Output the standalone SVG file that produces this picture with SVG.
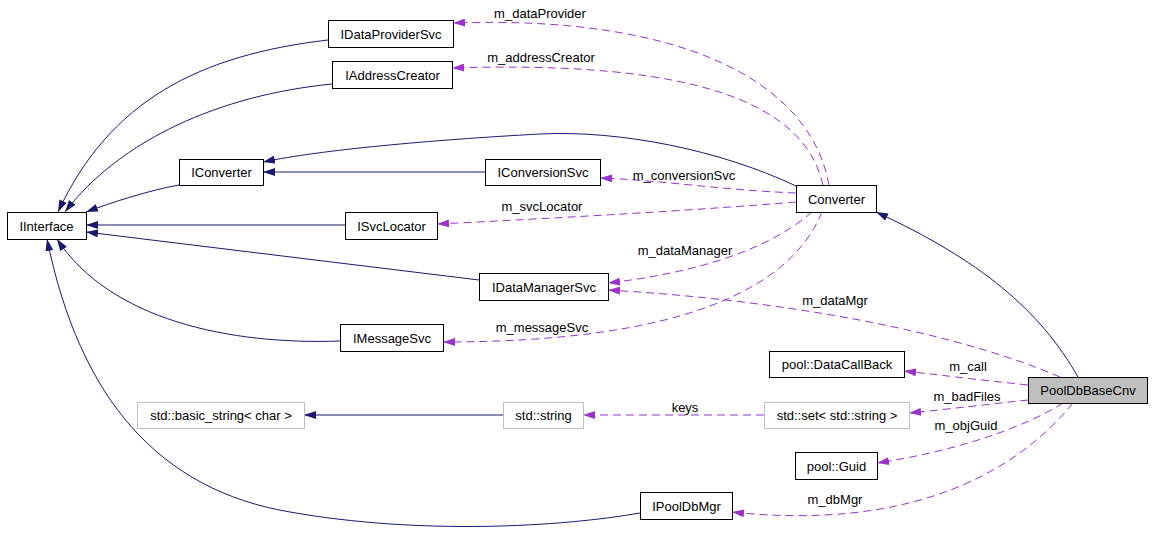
<svg xmlns="http://www.w3.org/2000/svg" width="1152" height="560" viewBox="0 0 1152 560">
<style>
.n rect{fill:#fff;stroke:#000;stroke-width:1}
.n.g rect{stroke:#bfbfbf}
.n.sel rect{fill:#bfbfbf}
text{font-family:"Liberation Sans",Arial,sans-serif;font-size:13px;fill:#000;text-anchor:middle}
.inh{fill:none;stroke:#191970;stroke-width:1;marker-end:url(#ab)}
.use{fill:none;stroke:#9a32cd;stroke-width:1;stroke-dasharray:8,5;marker-end:url(#ap)}
</style>
<defs>
<marker id="ab" viewBox="0 0 12 8" refX="12" refY="4" markerWidth="12" markerHeight="8" markerUnits="userSpaceOnUse" orient="auto"><path d="M0,0 L12,4 L0,8 z" fill="#191970"/></marker>
<marker id="ap" viewBox="0 0 12 8" refX="12" refY="4" markerWidth="12" markerHeight="8" markerUnits="userSpaceOnUse" orient="auto"><path d="M0,0 L12,4 L0,8 z" fill="#9a32cd"/></marker>
</defs>
<rect width="1152" height="560" fill="#fff"/>
<g id="connectors">
<path class="inh" d="M328,40 C200,55 110,100 58,212"/>
<path class="inh" d="M332,84 C220,95 120,140 65,212"/>
<path class="inh" d="M179,185 C150,190 110,203 86,212"/>
<path class="inh" d="M345,225 L86,225"/>
<path class="inh" d="M479,280 L86,232"/>
<path class="inh" d="M340,341 C230,345 110,320 57,239"/>
<path class="inh" d="M640,513 C560,527 420,535 290,512 C160,490 80,400 47,239"/>
<path class="inh" d="M485,172 L263,172"/>
<path class="inh" d="M796,186 C720,150 620,130 540,134 C430,140 320,150 263,162"/>
<path class="inh" d="M1078,377 C1040,310 980,260 876,212"/>
<path class="inh" d="M503,415 L304,415"/>
<path class="use" d="M829,185 C810,80 680,15 453,23"/>
<path class="use" d="M823,185 C805,105 700,60 452,68"/>
<path class="use" d="M796,193 C720,190 660,180 600,178"/>
<path class="use" d="M796,202 C700,210 560,218 437,224"/>
<path class="use" d="M812,212 C780,240 720,270 608,283"/>
<path class="use" d="M822,212 C790,290 680,342 443,342"/>
<path class="use" d="M1060,377 C950,330 780,300 608,290"/>
<path class="use" d="M1028,385 C980,380 940,375 904,371"/>
<path class="use" d="M1028,400 C990,404 950,409 909,413"/>
<path class="use" d="M1063,403 C1020,430 950,452 877,463"/>
<path class="use" d="M1073,403 C1010,480 900,530 732,512"/>
<path class="use" d="M764,415 L583,415"/>
<text x="540" y="18">m_dataProvider</text>
<text x="541" y="62">m_addressCreator</text>
<text x="684" y="180">m_conversionSvc</text>
<text x="542" y="211">m_svcLocator</text>
<text x="685" y="255">m_dataManager</text>
<text x="542" y="332">m_messageSvc</text>
<text x="835" y="305">m_dataMgr</text>
<text x="968" y="371">m_call</text>
<text x="967" y="401">m_badFiles</text>
<text x="966" y="430">m_objGuid</text>
<text x="835" y="504">m_dbMgr</text>
<text x="685" y="412">keys</text>
</g>
<g id="IInterface" class="n"><rect x="7.5" y="212.5" width="79" height="27"/><text x="46.5" y="230.5">IInterface</text></g>
<g id="IConverter" class="n"><rect x="179.5" y="159.5" width="84" height="26"/><text x="221.5" y="177">IConverter</text></g>
<g id="IDataProviderSvc" class="n"><rect x="328.5" y="20.5" width="125" height="27"/><text x="391" y="38.5">IDataProviderSvc</text></g>
<g id="IAddressCreator" class="n"><rect x="332.5" y="61.5" width="120" height="27"/><text x="392.5" y="79.5">IAddressCreator</text></g>
<g id="IConversionSvc" class="n"><rect x="485.5" y="159.5" width="115" height="26"/><text x="543" y="177">IConversionSvc</text></g>
<g id="ISvcLocator" class="n"><rect x="345.5" y="212.5" width="92" height="27"/><text x="391.5" y="230.5">ISvcLocator</text></g>
<g id="IDataManagerSvc" class="n"><rect x="479.5" y="273.5" width="129" height="27"/><text x="544" y="291.5">IDataManagerSvc</text></g>
<g id="IMessageSvc" class="n"><rect x="340.5" y="324.5" width="103" height="27"/><text x="392" y="342.5">IMessageSvc</text></g>
<g id="Converter" class="n"><rect x="796.5" y="185.5" width="80" height="27"/><text x="836.5" y="203.5">Converter</text></g>
<g id="PoolDbBaseCnv" class="n sel"><rect x="1028.5" y="377.5" width="119" height="26"/><text x="1088" y="395">PoolDbBaseCnv</text></g>
<g id="DataCallBack" class="n"><rect x="769.5" y="351.5" width="135" height="26"/><text x="837" y="369">pool::DataCallBack</text></g>
<g id="StdSet" class="n g"><rect x="764.5" y="402.5" width="145" height="26"/><text x="837" y="420">std::set&lt; std::string &gt;</text></g>
<g id="Guid" class="n"><rect x="795.5" y="452.5" width="82" height="27"/><text x="836.5" y="470.5">pool::Guid</text></g>
<g id="IPoolDbMgr" class="n"><rect x="640.5" y="492.5" width="92" height="27"/><text x="686.5" y="510.5">IPoolDbMgr</text></g>
<g id="StdString" class="n g"><rect x="503.5" y="402.5" width="80" height="26"/><text x="543.5" y="420">std::string</text></g>
<g id="BasicString" class="n g"><rect x="137.5" y="402.5" width="167" height="26"/><text x="221" y="420">std::basic_string&lt; char &gt;</text></g>
</svg>
